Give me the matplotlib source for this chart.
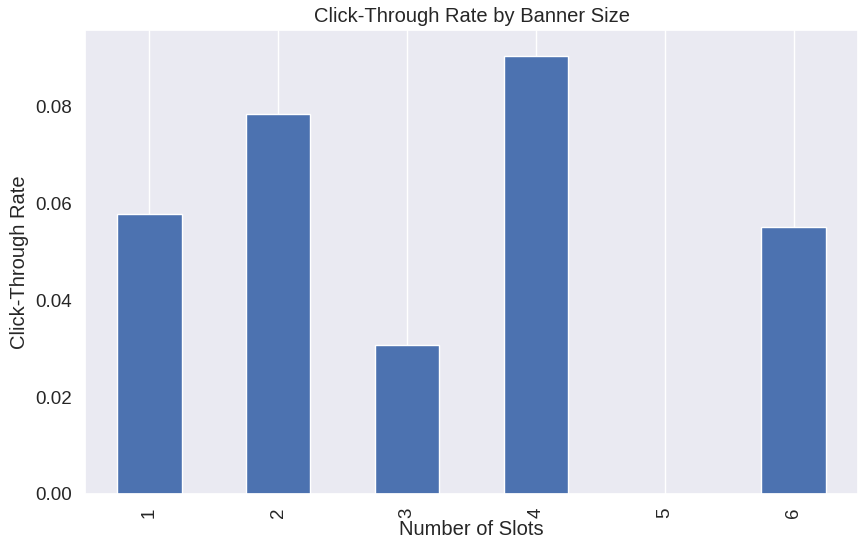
import numpy as np
import matplotlib
matplotlib.use('Agg')
import matplotlib.pyplot as plt
import seaborn as sns

slots = ['1', '2', '3', '4', '5', '6']
ctr = [0.0579, 0.0786, 0.0308, 0.0905, 0.0, 0.0552]

sns.set_theme(style='darkgrid')
plt.rcParams['font.family'] = ['Liberation Sans', 'DejaVu Sans']

fig = plt.figure(figsize=(8.68, 5.53), dpi=100)
ax = fig.add_axes([85 / 868, 59 / 553, 773 / 868, 464 / 553])

x = np.arange(len(slots))
ax.bar(x, ctr, width=0.5, color='#4c72b0')
ax.set_xticks(x)
ax.set_xticklabels(slots, rotation=90, fontsize=13.5)
ax.tick_params(axis='y', labelsize=13.5)
ax.set_xlim(-0.5, len(slots) - 0.5)
ax.set_ylim(0, 0.0959)
ax.grid(axis='y', visible=False)
ax.grid(axis='x', color='white')
ax.set_axisbelow(True)

ax.set_xlabel('Number of Slots', fontsize=14.5, labelpad=2)
ax.set_ylabel('Click-Through Rate', fontsize=14.5)
ax.set_title('Click-Through Rate by Banner Size', fontsize=14.5)

fig.savefig('out.png', dpi=100)
